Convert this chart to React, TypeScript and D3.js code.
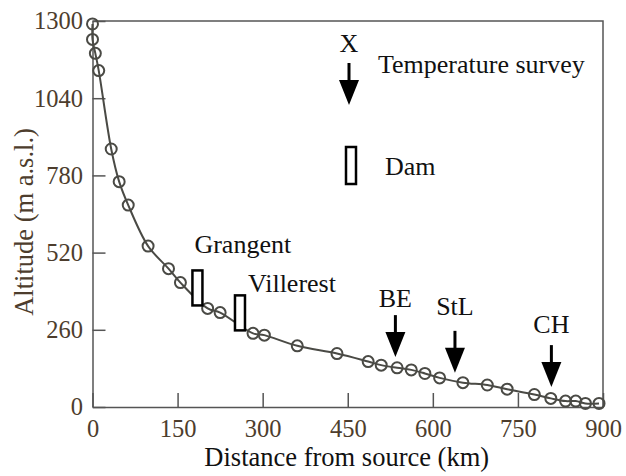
import React, { useEffect, useRef } from 'react';
import * as d3 from 'd3';

// distance from source (km) and altitude (m a.s.l.) of the profile points
const distance = [0, 0, 5, 11, 33, 47, 63, 98, 134, 155, 203, 225, 283, 303, 361, 431, 486, 509, 537, 562, 586, 612, 653, 696, 731, 779, 808, 834, 852, 869, 893];
const altitude = [1290, 1238, 1191, 1133, 869, 759, 680, 542, 466, 419, 332, 318, 248, 242, 206, 180, 153, 141, 132, 125, 113, 98, 82, 74, 60, 42, 29, 20, 20, 12, 12];

const xTicks = [0, 150, 300, 450, 600, 750, 900];
const yTicks = [0, 260, 520, 780, 1040, 1300];

// dams: name, distance (km), altitude of the marker centre
const damNames = ['Grangent', 'Villerest'];
const damDistance = [185, 260];
const damAltitude = [401, 317];

// temperature survey stations: name, distance (km), altitude of the arrow tip
const surveyNames = ['BE', 'StL', 'CH'];
const surveyDistance = [534, 639, 809];
const surveyAltitude = [168, 115, 67];

const App = () => {
  const svgRef: any = useRef();

  useEffect(() => {
    const width = 626;
    const height = 476;
    const margin = { top: 21, right: 23, bottom: 69, left: 92.5 };
    const font = '"Liberation Serif", "Times New Roman", serif';
    const ink = '#4a4a45';
    const labelInk = '#4d3d2d';

    const svg = d3.select(svgRef.current)
      .attr('width', width)
      .attr('height', height);
    svg.selectAll('*').remove();

    const x = d3.scaleLinear().domain([0, 900]).range([margin.left, width - margin.right]);
    const y = d3.scaleLinear().domain([0, 1300]).range([height - margin.bottom, margin.top]);

    // frame: top and right lines
    svg.append('path')
      .attr('d', `M${x(0)},${y(1300)}H${x(900)}V${y(0)}`)
      .attr('fill', 'none')
      .attr('stroke', '#555')
      .attr('stroke-width', 1.5);

    const xAxis = svg.append('g')
      .attr('transform', `translate(0,${y(0)})`)
      .call(d3.axisBottom(x).tickValues(xTicks).tickFormat(d3.format('d')).tickSizeInner(-14).tickSizeOuter(0).tickPadding(13));
    const yAxis = svg.append('g')
      .attr('transform', `translate(${x(0)},0)`)
      .call(d3.axisLeft(y).tickValues(yTicks).tickFormat(d3.format('d')).tickSizeInner(-13).tickSizeOuter(0).tickPadding(9.5));

    [xAxis, yAxis].forEach((g) => {
      g.attr('font-family', font);
      g.select('.domain').attr('stroke', '#555').attr('stroke-width', 1.5);
      g.selectAll('.tick line').attr('stroke', '#555').attr('stroke-width', 1.5);
      g.selectAll('.tick text')
        .attr('font-family', font)
        .attr('font-size', 24.5)
        .attr('fill', labelInk);
    });

    // axis titles
    svg.append('text')
      .attr('x', (x(0) + x(900)) / 2 - 1)
      .attr('y', 466)
      .attr('text-anchor', 'middle')
      .attr('font-family', font)
      .attr('font-size', 26.5)
      .attr('fill', '#111')
      .text('Distance from source (km)');

    svg.append('text')
      .attr('transform', `translate(33,222) rotate(-90)`)
      .attr('text-anchor', 'middle')
      .attr('font-family', font)
      .attr('font-size', 26.5)
      .attr('fill', labelInk)
      .text('Altitude (m a.s.l.)');

    // profile line and points
    const points = distance.map((d, i) => [d, altitude[i]]);
    const line: any = d3.line()
      .x((d: any) => x(d[0]))
      .y((d: any) => y(d[1]))
      .curve(d3.curveCatmullRom.alpha(0.5));

    svg.append('path')
      .datum(points)
      .attr('d', line)
      .attr('fill', 'none')
      .attr('stroke', ink)
      .attr('stroke-width', 2);

    svg.append('g')
      .selectAll('circle')
      .data(points)
      .join('circle')
      .attr('cx', (d: any) => x(d[0]))
      .attr('cy', (d: any) => y(d[1]))
      .attr('r', 5.5)
      .attr('fill', 'none')
      .attr('stroke', ink)
      .attr('stroke-width', 2);

    const damW = 10;
    const damH = 35;
    const drawDam = (cx: number, cy: number) => {
      svg.append('rect')
        .attr('x', cx - damW / 2)
        .attr('y', cy - damH / 2)
        .attr('width', damW)
        .attr('height', damH)
        .attr('fill', '#fff')
        .attr('stroke', '#000')
        .attr('stroke-width', 2.5);
    };

    const arrowLen = 42;
    const headLen = 25;
    const headW = 20;
    const drawArrow = (cx: number, tip: number) => {
      svg.append('line')
        .attr('x1', cx).attr('x2', cx)
        .attr('y1', tip - arrowLen).attr('y2', tip - headLen + 2)
        .attr('stroke', '#000')
        .attr('stroke-width', 3);
      svg.append('path')
        .attr('d', `M${cx - headW / 2},${tip - headLen}L${cx + headW / 2},${tip - headLen}L${cx},${tip}Z`)
        .attr('fill', '#000');
    };

    const damLabel: any = { Grangent: [-3, -17, 'start'], Villerest: [8, -3, 'start'] };
    damNames.forEach((name, i) => {
      const cx = x(damDistance[i]);
      const cy = y(damAltitude[i]);
      drawDam(cx, cy);
      const [dx, dy, anchor] = damLabel[name];
      svg.append('text')
        .attr('x', cx + dx)
        .attr('y', cy - damH / 2 + dy)
        .attr('text-anchor', anchor)
        .attr('font-family', font)
        .attr('font-size', 26)
        .attr('fill', '#111')
        .text(name);
    });

    const surveyGap: any = { BE: 8, StL: 16, CH: 12 };
    surveyNames.forEach((name, i) => {
      const cx = x(surveyDistance[i]);
      const tip = y(surveyAltitude[i]);
      drawArrow(cx, tip);
      svg.append('text')
        .attr('x', cx)
        .attr('y', tip - arrowLen - surveyGap[name])
        .attr('text-anchor', 'middle')
        .attr('font-family', font)
        .attr('font-size', 26)
        .attr('fill', '#111')
        .text(name);
    });

    // legend
    svg.append('text')
      .attr('x', 349)
      .attr('y', 52)
      .attr('text-anchor', 'middle')
      .attr('font-family', font)
      .attr('font-size', 26)
      .attr('fill', '#111')
      .text('X');
    drawArrow(349, 105);
    svg.append('text')
      .attr('x', 378)
      .attr('y', 73)
      .attr('font-family', font)
      .attr('font-size', 26)
      .attr('fill', '#111')
      .text('Temperature survey');
    svg.append('rect')
      .attr('x', 346)
      .attr('y', 147)
      .attr('width', damW)
      .attr('height', 37)
      .attr('fill', '#fff')
      .attr('stroke', '#000')
      .attr('stroke-width', 2.5);
    svg.append('text')
      .attr('x', 385)
      .attr('y', 175)
      .attr('font-family', font)
      .attr('font-size', 26)
      .attr('fill', '#111')
      .text('Dam');
  }, []);

  return <svg ref={svgRef} style={{ position: 'absolute', left: 0, top: 0, background: '#fff' }}></svg>;
};

export default App;
